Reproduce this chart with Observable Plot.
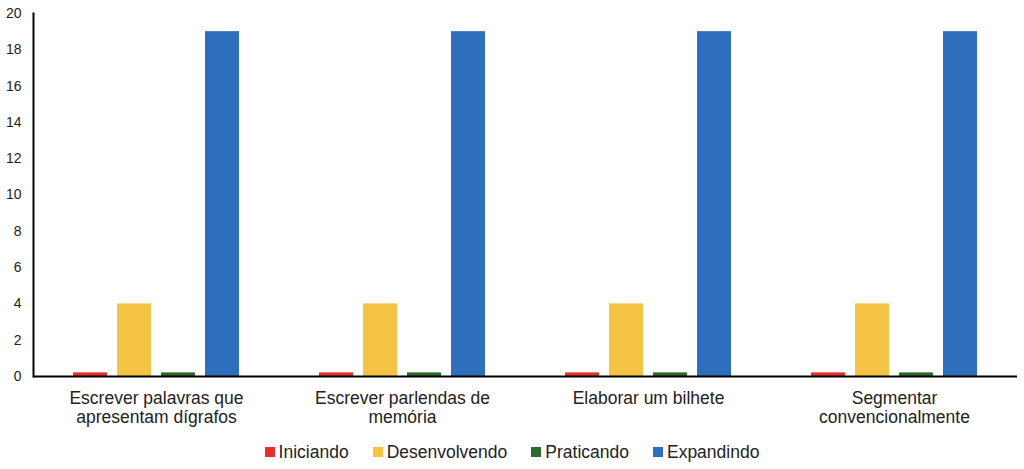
<!DOCTYPE html>
<html><head><meta charset="utf-8">
<script src="https://cdn.jsdelivr.net/npm/d3@7"></script>
<script src="https://cdn.jsdelivr.net/npm/@observablehq/plot@0.6"></script>
<style>
body{margin:0;background:#fff;font-family:"Liberation Sans",Arial,sans-serif;}
#legend{display:flex;justify-content:center;align-items:center;height:34px;font-size:17.5px;color:#222;}
#legend span.item{display:flex;align-items:center;margin:0 12px;}
#legend span.sw{display:inline-block;width:10px;height:10px;margin-right:4px;}
</style></head><body>
<div id="chart"></div>
<div id="legend"></div>
<script>
const categories = ["Escrever palavras que apresentam dígrafos","Escrever parlendas de memória","Elaborar um bilhete","Segmentar convencionalmente"];
const categoryLines = ["Escrever palavras que\napresentam dígrafos","Escrever parlendas de\nmemória","Elaborar um bilhete","Segmentar\nconvencionalmente"];
const series = ["Iniciando","Desenvolvendo","Praticando","Expandindo"];
const colors = ["#e2302a","#f5c343","#2a6a2b","#2e6fbd"];
const iniciando = [0.2,0.2,0.2,0.2];
const desenvolvendo = [4,4,4,4];
const praticando = [0.2,0.2,0.2,0.2];
const expandindo = [19,19,19,19];
const yTicks = [0,2,4,6,8,10,12,14,16,18,20];

const valuesBySeries = [iniciando, desenvolvendo, praticando, expandindo];
const data = [];
categories.forEach((c,i)=>series.forEach((s,j)=>data.push({cat:c, serie:s, value:valuesBySeries[j][i]})));
const labelOf = new Map(categories.map((c,i)=>[c,categoryLines[i]]));

const chart = Plot.plot({
  width:1024, height:435,
  marginLeft:32, marginRight:7, marginTop:13, marginBottom:59,
  style:{fontFamily:"Liberation Sans, Arial, sans-serif", background:"#fff", color:"#222"},
  fx:{domain:categories, padding:0},
  x:{domain:series, paddingInner:0.222, paddingOuter:0.872, axis:null},
  y:{domain:[0,20]},
  color:{domain:series, range:colors},
  marks:[
    Plot.barY(data,{fx:"cat", x:"serie", y:"value", fill:"serie"}),
    Plot.ruleY([0],{stroke:"#000", strokeWidth:2}),
    Plot.frame({anchor:"left", facetAnchor:"left", stroke:"#000", strokeWidth:2}),
    Plot.axisY({ticks:yTicks, tickSize:0, tickPadding:12, label:null, fontSize:14, tickFormat:d=>d, anchor:"left"}),
    Plot.axisFx({tickSize:0, tickPadding:14, label:null, fontSize:17.5, lineHeight:1.09, tickFormat:d=>labelOf.get(d), anchor:"bottom"})
  ]
});
document.getElementById("chart").appendChild(chart);
const lg = document.getElementById("legend");
series.forEach((s,i)=>{
  const it=document.createElement("span"); it.className="item";
  it.innerHTML=`<span class="sw" style="background:${colors[i]}"></span>${s}`;
  lg.appendChild(it);
});
</script>
</body></html>
